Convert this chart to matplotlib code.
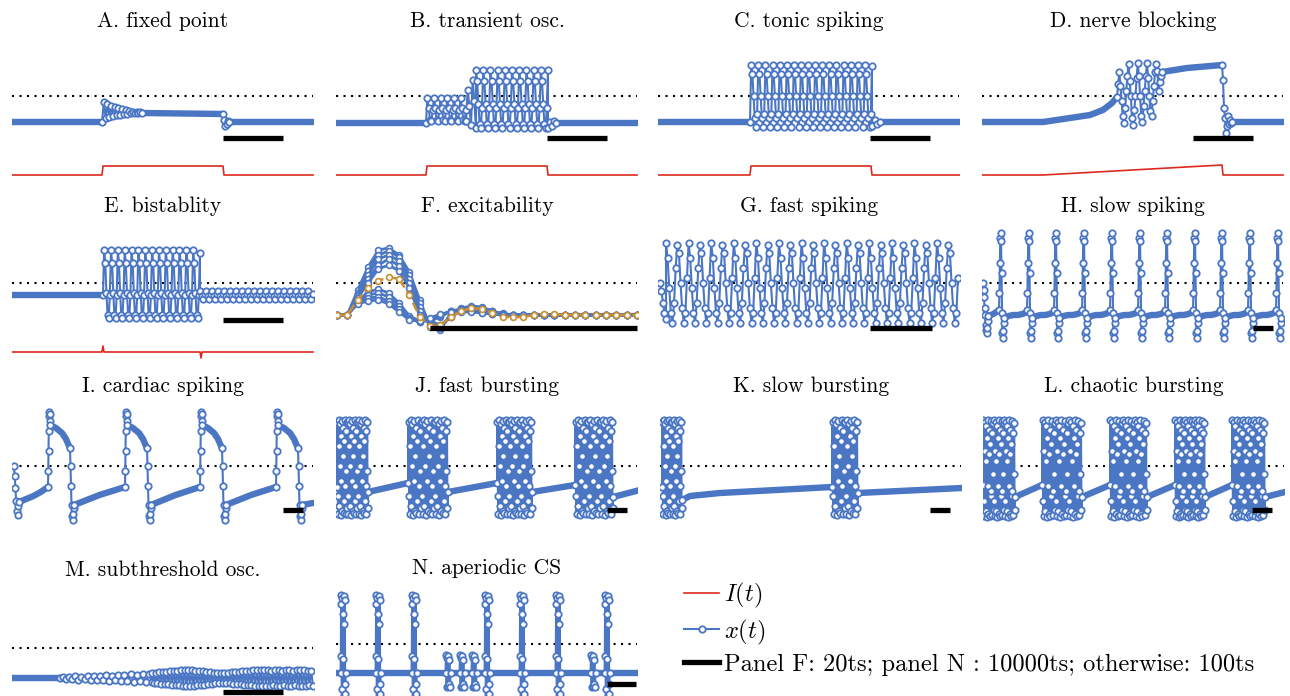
import numpy as np
import matplotlib.pyplot as plt
from matplotlib.lines import Line2D

plt.rcParams['font.family'] = ['cmr10', 'DejaVu Serif']
plt.rcParams['mathtext.fontset'] = 'cm'
plt.rcParams['axes.unicode_minus'] = False

BLUE = '#4a76c4'
RED = '#dc2a1e'
ORANGE = '#c98f30'

titles = ['A. fixed point', 'B. transient osc.', 'C. tonic spiking', 'D. nerve blocking',
          'E. bistablity', 'F. excitability', 'G. fast spiking', 'H. slow spiking',
          'I. cardiac spiking', 'J. fast bursting', 'K. slow bursting', 'L. chaotic bursting',
          'M. subthreshold osc.', 'N. aperiodic CS']

# traces: (kind, t, values), kind 's' = slow part (dense samples), 'f' = sampled points
trace_A = [('s', [0, 90], [-26, -26]),
           ('f', [90, 130], [-26, -6, -22, -8, -21, -10, -20, -11, -19, -12, -19, -13,
                             -18, -14, -18, -15, -17, -16, -17, -16, -17, -16, -17]),
           ('s', [130, 211], [-17, -18]),
           ('f', [211, 217], [-18, -24, -30, -28, -25, -26]),
           ('s', [217, 301], [-26, -26])]

B_small = [-2, -12, -24, -25, -14]
B_cycle = [26, 15, -8, -28, -32, -12]
trace_B = [('s', [0, 90], [-27, -27]),
           ('f', [90, 130], [-27] + B_small * 6),
           ('f', [130, 140], [-25, 6, -10, -29, 16, -5, -32]),
           ('f', [140, 212], B_cycle * 10 + [26]),
           ('f', [212, 220], [-32, -26, -30, -25, -27]),
           ('s', [220, 302], [-27, -27])]

C_cycle = [31, 22, 0, -22, -31, -18]
trace_C = [('s', [0, 92], [-26, -26]),
           ('f', [92, 214], [-26] + C_cycle * 17 + [30]),
           ('f', [214, 222], [-30, -24, -28, -26]),
           ('s', [222, 302], [-26, -26])]

trace_D = [('s', [0, 61], [-26, -26]),
           ('s', [61, 88, 108, 121, 130, 135], [-26, -22, -19, -14, -7, -1]),
           ('f', [135, 180], [-1, 12, 24, 10, -5, -20, -27, -12, 5, 20, 32, 15, 0, -22, -29,
                              -14, 0, 18, 33, 20, 0, -20, -26, -10, 5, 20, 33, 18, 0, -15,
                              -20, -5, 10, 24, 32, 25, 5, 14, 20, 24]),
           ('s', [180, 205, 240], [24, 28, 31]),
           ('f', [240, 250], [31, 16, -12, -22, -37, -30, -20, -28, -24, -27, -26]),
           ('s', [250, 301], [-26, -26])]

E_cycle = [33, 20, -10, -32, -35, -12]
trace_E = [('s', [0, 91], [-12, -12]),
           ('f', [91, 188], [-12] + E_cycle * 14 + [30]),
           ('f', [188, 301], [-8, -13, -16, -11] * 19)]

F_t = [0, 300]
F_blue = [
    [-32, -32, -7, 16, 33, 35, 28, 11, -17, -44, -47, -30, -27, -25, -25, -29, -30, -32],
    [-32, -32, -10, 12, 28, 32, 26, 8, -20, -42, -45, -32, -26, -24, -25, -28, -31, -32],
    [-32, -32, -12, 8, 24, 28, 22, 4, -24, -40, -44, -33, -25, -23, -24, -28, -31, -32],
    [-32, -32, -13, 4, 18, 24, 17, 0, -28, -38, -43, -34, -26, -24, -25, -28, -31, -32],
    [-32, -32, -15, 0, 14, 18, 12, -5, -32, -38, -42, -34, -28, -25, -26, -29, -31, -32],
    [-32, -32, -18, -9, -6, -10, -20, -33, -38, -38, -34, -28, -26, -26, -28, -30, -32, -32],
    [-32, -32, -19, -12, -10, -14, -23, -35, -39, -37, -33, -28, -27, -27, -29, -31, -32, -32],
    [-32, -32, -20, -15, -14, -18, -26, -36, -39, -36, -32, -28, -28, -28, -30, -31, -32, -32],
    [-32, -32, -21, -18, -17, -21, -29, -37, -38, -35, -31, -29, -29, -29, -30, -31, -32, -32]]
F_blue_tail = [-32] * 12
F_orange = [-32, -32, -17, -5, 2, 6, 4, -12, -34, -43, -42, -34, -28, -25, -26, -30, -34,
            -34, -34, -32, -31, -31, -32, -32, -32, -32, -32, -32, -32, -32]

G_cycle = [40, 25, -5, -30, -40, -20, 15, 38, 30, 0, -25, -40, -30, 5]
trace_G = [('f', [2, 8], [0, -8, -20, -30, -36]),
           ('f', [8, 300], G_cycle * 13)]

H_start = [0, -7, -14, -25, -32, -42, -47, -50, -45, -38, -33]
H_spike_t = [18, 46, 73, 101, 129, 157, 184, 212, 239, 267, 295]
H_spike = [-27, -10, 20, 45, 50, 42, 10, -30, -50, -55, -48, -40, -35]
H_rest = [-35, -33, -32, -32, -31, -29]

I_start = [0, -10, -22, -35, -45, -49, -40, -36]
I_up_t = [36, 113, 188, 264]
I_up = [-21, -5, 15, 35, 50, 54, 52, 45, 41]
I_plateau_dt = [2, 8, 14, 18, 21, 22]
I_plateau = [41, 38, 33, 27, 20, 18]
I_drop = [18, 0, -20, -39, -50, -54, -48, -42, -39]
I_rise = [-39, -34, -29, -25, -21]

J_burst = [44, -30, -48, 20, 46, -40, 0, 42, -49, 30, -15, 45, -45, 10, 38, -47, 25, -35,
           46, -20, -48, 35, -5, 44, -42]
J_bursts = [(1, 32), (72, 112), (161, 196), (239, 277)]
J_gaps = [(32, 72, -26, -17), (112, 161, -26, -17), (196, 239, -26, -19), (277, 304, -31, -24)]

K_bursts = [(2, 22), (172, 198)]
K_gap_t = [[22, 30, 60, 172], [198, 302]]
K_gap_y = [[-34, -30, -27, -21], [-27, -22]]

L_burst = [46, -35, -50, 15, 44, -45, 5, 40, -51, 28, -20, 46, -48, 12, 36, -50, 22, -30,
           45, -25, -49, 33, -8, 43, -44]
L_bursts = [(0, 32), (59, 99), (127, 164), (192, 222), (249, 282)]
L_gaps = [(32, 59, -31, -19), (99, 127, -31, -19), (164, 192, -31, -19),
          (222, 249, -31, -19), (282, 302, -31, -26)]

M_osc1 = [-30, -29, -31, -29, -31, -28, -32, -29, -31, -28, -32, -28, -32, -28, -32, -27,
          -33, -28, -32, -27, -33, -27, -33, -26, -34, -27, -33, -26, -34, -26, -34]
M_osc2 = [-25, -35, -25, -35, -24, -36, -24, -36, -24, -36, -23, -37, -23, -37, -23, -37,
          -22, -38, -22, -38, -22, -38, -22, -38, -23, -37, -23, -37, -23, -37,
          -24, -36, -24, -36, -25, -35, -25, -35, -25, -35, -25, -35, -25, -35, -24, -36,
          -24, -36, -24, -36, -23, -37, -23, -37, -23, -37, -22, -38, -22, -38,
          -22, -38, -22, -38, -22, -38, -23, -37, -22, -38, -22, -38, -23, -37, -22, -38,
          -22, -38, -23, -37, -22, -38, -22, -38, -22, -38, -23, -37, -23, -38]
trace_M = [('s', [0, 48], [-30, -30]),
           ('f', [48, 140], M_osc1),
           ('f', [140, 301], M_osc2)]

N_tall_t = [7, 42, 78, 151, 186, 222, 271]
N_small_t = [112, 126, 138, 257]
N_tall = [-29, -12, 49, 40, -60, -45, 46, 30, -58, -15, 48, 20, -60, -40, 44, -50, -29]
N_small = [-29, -11, -43, -14, -42, -12, -40, -16, -43, -29]

# input current I(t)
I_t = {'A': [0, 90, 91, 211, 212, 301], 'B': [0, 90, 91, 211, 212, 301],
       'C': [0, 92, 93, 213, 214, 302], 'D': [0, 61, 240, 241, 301],
       'E': [0, 90, 91, 92, 188, 189, 190, 301]}
I_v = {'A': [-79, -79, -70, -70, -79, -79], 'B': [-79, -79, -70, -70, -79, -79],
       'C': [-79, -79, -70, -70, -79, -79], 'D': [-79, -79, -69, -79, -79],
       'E': [-69, -69, -63, -69, -69, -75, -69, -69]}

# scale bars (t0, t1, level)
bars = {'A': (211, 271, -42), 'B': (211, 271, -42), 'C': (212, 272, -42), 'D': (211, 271, -42),
        'E': (211, 271, -37), 'F': (94, 301, -45), 'G': (212, 274, -45), 'H': (271, 291, -45),
        'I': (271, 291, -44), 'J': (271, 291, -44), 'K': (270, 290, -44), 'L': (269, 289, -44),
        'M': (211, 271, -44), 'N': (271, 300, -40)}


# ---- assemble the pieced traces ----
trace_H = [('f', [1, 6], H_start), ('s', [6, 17], [-33, -31, -27])]
for i, ts in enumerate(H_spike_t):
    trace_H.append(('f', [ts - 1, ts + 4], H_spike))
    if i + 1 < len(H_spike_t):
        trace_H.append(('s', [ts + 4, H_spike_t[i + 1] - 1], H_rest))

trace_I = [('f', [2, 7], I_start), ('s', [7, I_up_t[0]], [-36, -33, -30, -26, -21])]
for i, u in enumerate(I_up_t):
    trace_I.append(('f', [u, u + 2], I_up))
    trace_I.append(('s', [u + d for d in I_plateau_dt], I_plateau))
    trace_I.append(('f', [u + 22, u + 26], I_drop))
    if i + 1 < len(I_up_t):
        trace_I.append(('s', [u + 26, I_up_t[i + 1]], I_rise))
    else:
        trace_I.append(('s', [u + 26, 301], [-39, -37]))


def bursting(bursts, gaps, pattern, reps, first):
    out = []
    prev = first
    for (b0, b1), (g0, g1, y0, y1) in zip(bursts, gaps):
        out.append(('f', [b0, b1], [prev] + pattern * reps + [y0]))
        out.append(('s', [g0, g1], [y0, y1]))
        prev = y1
    return out


trace_J = bursting(J_bursts, J_gaps, J_burst, 3, -21)
trace_L = bursting(L_bursts, L_gaps, L_burst, 3, -19)
trace_K = []
prev = -21
for (b0, b1), gt, gy in zip(K_bursts, K_gap_t, K_gap_y):
    trace_K.append(('f', [b0, b1], [prev] + J_burst * 2 + [gy[0]]))
    trace_K.append(('s', gt, gy))
    prev = gy[-1]

trace_N = []
prev = 0
for ts, pat in sorted([(t, N_tall) for t in N_tall_t] + [(t, N_small) for t in N_small_t]):
    trace_N.append(('s', [prev, ts - 2.5], [-29, -29]))
    trace_N.append(('f', [ts - 2.5, ts + 2.5], pat))
    prev = ts + 2.5
trace_N.append(('s', [prev, 304], [-29, -29]))

# ---- layout (pixels): panel left edge, threshold line, title baseline offset ----
layout = {'A': (12, 96, 69), 'B': (336, 96, 69), 'C': (658, 96, 69), 'D': (982, 96, 69),
          'E': (12, 283, 71), 'F': (336, 283, 71), 'G': (658, 283, 71), 'H': (982, 283, 71),
          'I': (12, 466, 74), 'J': (336, 466, 74), 'K': (660, 466, 74), 'L': (983, 466, 74),
          'M': (12, 648, 72), 'N': (336, 644, 70)}
traces = {'A': trace_A, 'B': trace_B, 'C': trace_C, 'D': trace_D, 'E': trace_E,
          'G': trace_G, 'H': trace_H, 'I': trace_I, 'J': trace_J, 'K': trace_K,
          'L': trace_L, 'M': trace_M, 'N': trace_N}

W, H = 1290, 696
fig = plt.figure(figsize=(W / 100, H / 100), dpi=100)

MK = dict(ms=4.6, mfc='white', mec=BLUE, mew=1.3)


def draw_trace(ax, pieces):
    T, Y = [], []
    for kind, t, y in pieces:
        t = np.linspace(t[0], t[-1], len(y)) if len(t) != len(y) else np.asarray(t, float)
        T.append(t)
        Y.append(np.asarray(y, float))
        if kind == 's':
            ax.plot(t, y, color=BLUE, lw=4.6, solid_capstyle='round', zorder=2)
        else:
            ax.plot(t, y, 'o', zorder=3, **MK)
    ax.plot(np.concatenate(T), np.concatenate(Y), color=BLUE, lw=1.5, zorder=2)


for key, title in zip(layout, titles):
    x0, dot, ty = layout[key]
    ax = fig.add_axes([x0 / W, 1 - (dot + 110) / H, 302 / W, 220 / H])
    ax.set_xlim(0, 302)
    ax.set_ylim(-110, 110)
    ax.axis('off')
    ax.plot([0, 301], [0, 0], color='k', ls=(0, (1, 2.6)), lw=1.5, zorder=1)
    ax.text(151, ty, title, ha='center', va='baseline', fontsize=15.5)
    if key == 'F':
        ft = np.linspace(F_t[0], F_t[1], len(F_orange)) + 1
        for curve in F_blue:
            ax.plot(ft, curve + F_blue_tail, '-o', color=BLUE, lw=2.0, ms=4.2,
                    mfc='white', mec=BLUE, mew=1.2, zorder=2)
        ax.plot(ft, F_orange, '--o', color=ORANGE, lw=1.8, ms=4.2, mfc='white',
                mec=ORANGE, mew=1.2, zorder=3)
    else:
        draw_trace(ax, traces[key])
    if key in I_t:
        ax.plot(I_t[key], I_v[key], color=RED, lw=1.2)
    b0, b1, by = bars[key]
    ax.plot([b0, b1], [by, by], color='k', lw=3.8, solid_capstyle='butt', zorder=4)

handles = [Line2D([], [], color=RED, lw=1.2),
           Line2D([], [], color=BLUE, lw=1.5, marker='o', **MK),
           Line2D([], [], color='k', lw=3.8)]
labels = [r'$I(t)$', r'$x(t)$', 'Panel F: 20ts; panel N : 10000ts; otherwise: 100ts']
fig.legend(handles, labels, loc='upper left', bbox_to_anchor=(684 / W, 1 - 581 / H),
           frameon=False, fontsize=17.6, handlelength=1.45, handletextpad=0.2,
           labelspacing=0.3, borderpad=0, borderaxespad=0)

fig.savefig('out.png', dpi=100)
